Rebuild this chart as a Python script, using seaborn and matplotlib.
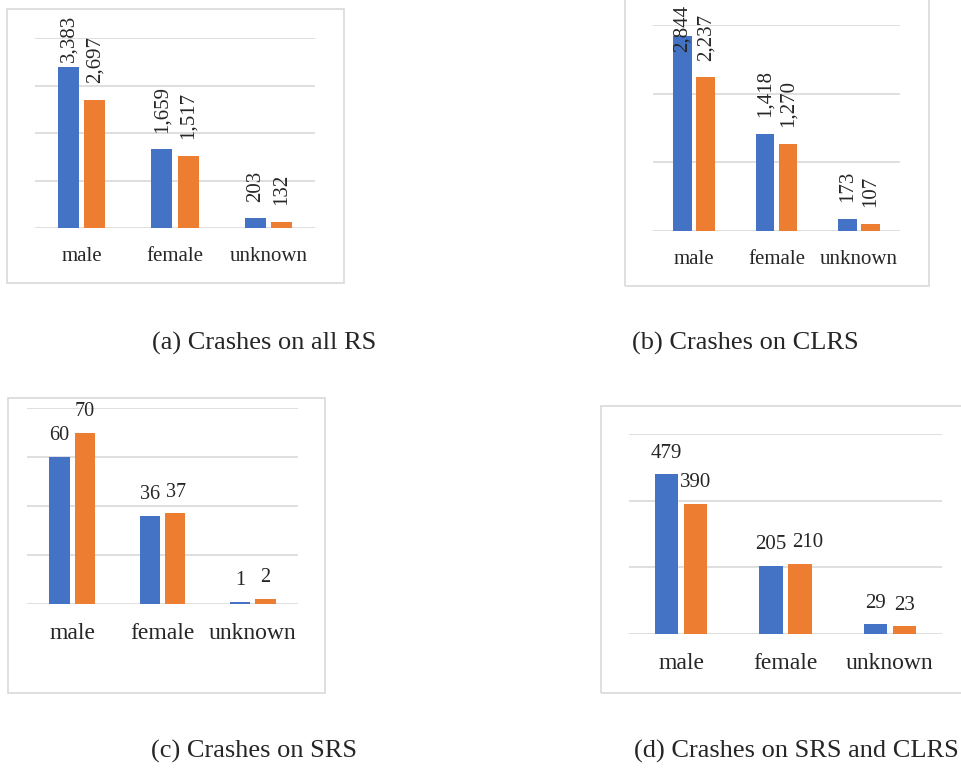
import pandas as pd
import seaborn as sns
import matplotlib.pyplot as plt
from matplotlib.patches import Rectangle

# data
genders = ["male", "female", "unknown"]
series_names = ["Series 1", "Series 2"]
all_rs = [[3383, 1659, 203], [2697, 1517, 132]]
clrs = [[2844, 1418, 173], [2237, 1270, 107]]
srs = [[60, 36, 1], [70, 37, 2]]
srs_clrs = [[479, 205, 29], [390, 210, 23]]
captions = ["(a) Crashes on all RS", "(b) Crashes on CLRS",
            "(c) Crashes on SRS", "(d) Crashes on SRS and CLRS"]
grid_steps = [1000, 1000, 20, 200]
grid_tops = [4000, 3000, 80, 600]

BLUE = "#4472C4"
ORANGE = "#ED7D31"
GRID = "#D9D9D9"
TXT = "#262626"

W, H = 962, 769
sns.set_style("white")
plt.rcParams["font.family"] = ["Liberation Serif", "DejaVu Serif"]

fig = plt.figure(figsize=(W / 100, H / 100), dpi=100)

# panel layout in pixels: plot area (x0, top, x1, bottom), frame box, label clamp
plot_px = [(35, 38, 315, 228), (653, 25, 900, 231),
           (27, 408, 298, 604), (629, 434, 942, 634)]
box_px = [(7, 9, 344, 283), (625, -2, 929, 286),
          (8, 398, 325, 693), (601, 406, 966, 693)]
clamp_px = [15, 5, None, None]
rotated = [True, True, False, False]
label_size = [15, 15, 14.5, 15]
tick_size = [15, 15, 17, 17]
cap_pos = [(264, 343), (745, 343), (254, 751), (796, 751)]


def to_df(values):
    rows = []
    for name, vals in zip(series_names, values):
        for g, v in zip(genders, vals):
            rows.append({"gender": g, "series": name, "count": v})
    return pd.DataFrame(rows)


texts = []
pairs = []
for i, values in enumerate([all_rs, clrs, srs, srs_clrs]):
    x0, yt, x1, yb = plot_px[i]
    ax = fig.add_axes([x0 / W, 1 - yb / H, (x1 - x0) / W, (yb - yt) / H])
    bx0, by0, bx1, by1 = box_px[i]
    fig.patches.append(Rectangle((bx0 / W, 1 - by1 / H), (bx1 - bx0) / W,
                                 (by1 - by0) / H, transform=fig.transFigure,
                                 fill=False, edgecolor=GRID, linewidth=1.2))

    df = to_df(values)
    sns.barplot(data=df, x="gender", y="count", hue="series",
                palette=[BLUE, ORANGE], saturation=1, width=0.56, gap=0.2,
                linewidth=0, legend=False, ax=ax, zorder=3)

    ax.set_ylim(0, grid_tops[i])
    ax.set_xlim(-0.5, 2.5)
    ax.set_yticks(range(0, grid_tops[i] + 1, grid_steps[i]))
    ax.yaxis.grid(True, color=GRID, linewidth=1.2, zorder=0)
    ax.set_yticklabels([])
    ax.tick_params(axis="y", length=0)
    ax.tick_params(axis="x", length=0, pad=13.5, labelsize=tick_size[i],
                   labelcolor=TXT)
    ax.set_xlabel("")
    ax.set_ylabel("")
    sns.despine(ax=ax, left=True, bottom=True)
    ax.patch.set_alpha(0)

    panel_labels = []
    for bars in ax.containers:
        row = []
        for bar in bars:
            v = bar.get_height()
            xc = bar.get_x() + bar.get_width() / 2
            if rotated[i]:
                t = ax.annotate(f"{v:,.0f}", (xc, v), xytext=(0, 12),
                                textcoords="offset points", ha="center",
                                va="bottom", rotation=90, color=TXT,
                                fontsize=label_size[i], annotation_clip=False)
            else:
                t = ax.annotate(f"{v:,.0f}", (xc, v), xytext=(0, 12),
                                textcoords="offset points", ha="center",
                                va="baseline", color=TXT,
                                fontsize=label_size[i], annotation_clip=False)
            texts.append((t, clamp_px[i]))
            row.append(t)
        panel_labels.append(row)
    if not rotated[i]:
        pairs.extend(zip(panel_labels[0], panel_labels[1]))

    fig.text(cap_pos[i][0] / W, 1 - cap_pos[i][1] / H, captions[i],
             ha="center", va="center", fontsize=19, color=TXT)

# keep labels inside the chart area and apart, like the spreadsheet does
fig.canvas.draw()
renderer = fig.canvas.get_renderer()
for t, limit in texts:
    if limit is None:
        continue
    bb = t.get_window_extent(renderer)
    lim = H - limit
    if bb.y1 > lim:
        dx, dy = t.xyann
        t.xyann = (dx, dy - (bb.y1 - lim) * 72 / fig.dpi)

for left, right in pairs:
    bl = left.get_window_extent(renderer)
    br = right.get_window_extent(renderer)
    overlap_y = bl.y0 < br.y1 and br.y0 < bl.y1
    need = bl.x1 + 6 - br.x0
    if overlap_y and need > 0:
        dx, dy = right.xyann
        right.xyann = (dx + need * 72 / fig.dpi, dy)

fig.savefig("out.png", dpi=100)
